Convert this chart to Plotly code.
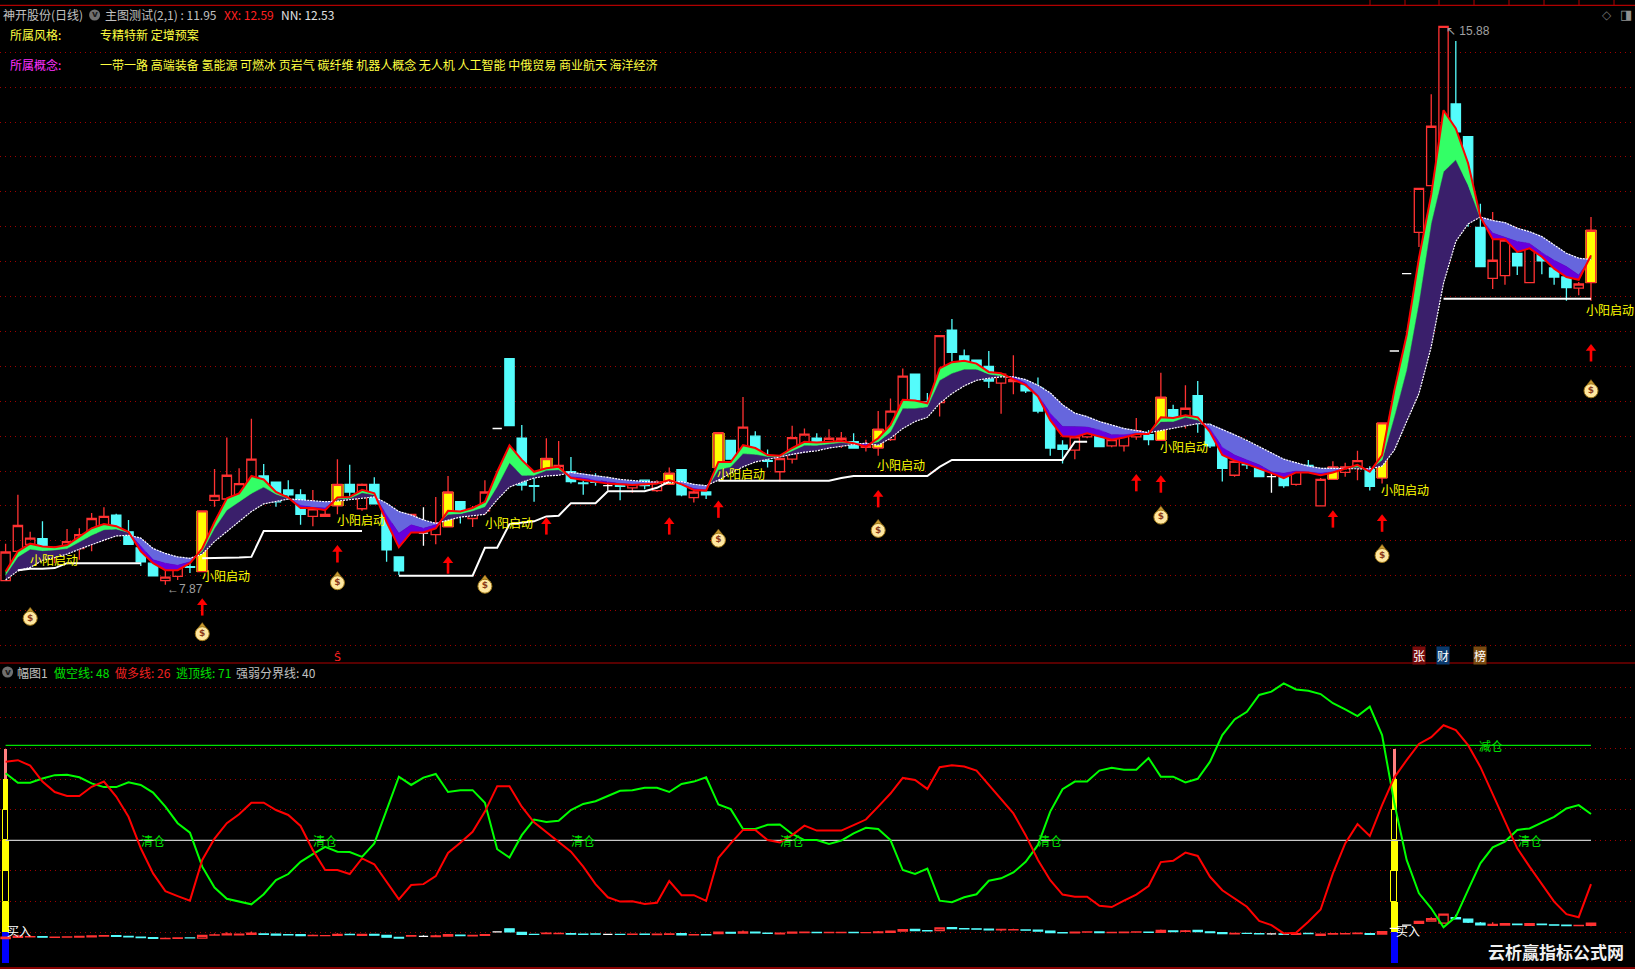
import plotly.graph_objects as go

W_PX, H_PX = 1635, 969
BG = "#000000"
RED = "#ff3232"
CYAN = "#54fcfc"
GRID = "#a00000"
FRAME = "#b00000"
CJK = "Noto Sans CJK SC"

# ---------- candles ----------
opens = [7.93,8.35,8.45,8.53,8.32,8.42,8.39,8.49,8.70,8.87,
 8.63,8.40,8.18,7.93,7.99,8.13,8.06,9.08,9.10,9.15,
 9.30,9.43,9.34,9.23,9.16,8.85,8.85,9.00,9.31,8.96,
 9.31,8.91,8.27,8.74,8.61,8.59,8.70,9.06,8.82,8.93,
 10.11,11.11,9.97,9.29,9.53,9.50,9.49,9.33,9.42,9.29,
 9.29,9.26,9.37,9.22,9.31,9.52,9.12,9.20,9.55,9.94,
 9.67,10.00,9.65,9.49,9.67,9.85,9.97,9.86,9.88,9.92,
 9.84,9.83,9.95,10.37,10.89,10.49,10.48,11.52,11.15,11.09,
 11.00,10.76,10.78,10.73,10.69,10.35,9.87,9.80,9.99,10.10,
 9.86,9.86,9.99,10.02,9.94,10.38,10.24,10.58,10.12,9.86,
 9.44,9.60,9.54,9.42,9.41,9.31,9.58,9.00,9.38,9.48,
 9.56,9.52,9.40,11.22,12.33,12.92,13.59,12.99,14.76,14.29,
 12.99,12.26,12.30,12.62,12.20,12.61,12.41,12.28,12.12,12.20]
closes = [8.34,8.72,8.54,8.37,8.38,8.49,8.59,8.82,8.85,8.63,
 8.45,8.20,8.00,7.98,8.14,8.12,8.93,9.15,9.44,9.32,
 9.67,9.29,9.06,9.16,8.88,8.96,8.88,9.31,9.20,9.31,
 9.03,8.37,8.07,8.88,8.61,8.75,9.20,8.87,8.93,9.20,
 10.11,10.15,9.30,9.28,9.68,9.58,9.35,9.32,9.34,9.29,
 9.28,9.32,9.29,9.34,9.47,9.16,9.20,9.16,10.05,9.67,
 10.13,9.80,9.64,9.68,9.98,10.03,9.87,9.97,9.97,9.83,
 9.86,10.10,10.36,10.86,10.52,10.41,11.44,11.20,11.08,10.99,
 10.79,10.89,10.81,10.65,10.36,9.83,9.81,9.99,10.11,9.85,
 9.95,10.03,10.08,9.95,10.56,10.23,10.40,10.20,9.86,9.54,
 9.64,9.59,9.42,9.42,9.29,9.55,9.51,9.38,9.56,9.56,
 9.65,9.28,10.19,11.22,12.33,13.55,14.44,15.87,14.36,13.27,
 12.43,12.52,12.81,12.44,12.76,12.51,12.28,12.13,12.18,12.95]
highs = [8.46,9.16,8.63,8.78,8.42,8.67,8.68,8.90,8.98,8.89,
 8.80,8.49,8.19,8.23,8.18,8.24,8.93,9.53,9.98,9.54,
 10.25,9.60,9.34,9.37,9.24,9.23,9.04,9.67,9.59,9.32,
 9.41,8.96,8.27,8.88,8.98,9.13,9.43,9.06,9.00,9.37,
 10.11,11.11,10.16,9.48,9.97,9.93,9.70,9.46,9.47,9.42,
 9.33,9.35,9.37,9.37,9.55,9.52,9.24,9.25,10.05,9.94,
 10.56,10.07,9.81,9.68,10.15,10.11,10.04,10.10,10.06,10.04,
 9.95,10.36,10.54,10.97,10.89,10.62,11.44,11.68,11.24,11.09,
 11.22,10.89,11.16,10.78,10.84,10.35,9.94,9.99,10.18,10.10,
 10.06,10.03,10.26,10.09,10.91,10.45,10.73,10.79,10.18,9.95,
 9.64,9.68,9.58,9.49,9.44,9.55,9.66,9.40,9.64,9.62,
 9.79,9.57,10.19,11.22,12.33,13.55,14.90,15.88,15.66,14.29,
 13.33,13.21,12.81,12.81,12.83,12.70,12.57,12.33,12.21,13.14]
lows = [7.93,8.27,8.39,8.33,8.18,8.35,8.23,8.35,8.63,8.61,
 8.44,8.14,7.99,7.87,7.94,8.04,8.06,8.99,8.97,9.01,
 9.13,9.22,8.99,9.09,8.73,8.71,8.84,8.88,9.11,8.93,
 9.03,8.20,8.01,8.63,8.43,8.45,8.70,8.75,8.70,8.87,
 10.11,10.15,9.22,9.06,9.53,9.50,9.32,9.16,9.29,9.22,
 9.08,9.19,9.24,9.20,9.31,9.14,9.05,9.10,9.55,9.67,
 9.57,9.72,9.55,9.35,9.61,9.85,9.85,9.85,9.83,9.83,
 9.78,9.72,9.93,10.30,10.52,10.37,10.28,11.07,11.04,10.89,
 10.69,10.32,10.60,10.62,10.33,9.72,9.61,9.67,9.97,9.85,
 9.84,9.78,9.95,9.87,9.94,10.21,10.11,10.05,9.83,9.35,
 9.42,9.53,9.42,9.19,9.26,9.29,9.48,9.00,9.38,9.42,
 9.37,9.22,9.32,11.22,12.33,12.71,13.59,12.99,14.29,13.00,
 12.43,12.11,12.17,12.31,12.20,12.32,12.17,11.94,12.02,11.94]
white_doji_days = [34, 40, 49, 103, 113, 114]
yellow_days = [16, 27, 36, 44, 54, 58, 71, 94, 108, 112, 129]

# ---------- ribbon lines ----------
fast_line = [8.06,8.35,8.46,8.42,8.41,8.44,8.56,8.68,8.74,8.71,
 8.63,8.35,8.18,8.08,8.08,8.18,8.39,8.77,9.11,9.18,
 9.43,9.38,9.20,9.12,8.97,8.97,8.94,9.12,9.13,9.23,
 9.18,8.77,8.41,8.62,8.62,8.68,8.93,8.92,8.97,9.06,
 9.49,9.87,9.66,9.49,9.54,9.56,9.40,9.37,9.35,9.32,
 9.31,9.30,9.31,9.32,9.37,9.31,9.23,9.22,9.63,9.63,
 9.87,9.83,9.73,9.72,9.83,9.92,9.91,9.92,9.93,9.90,
 9.85,9.97,10.16,10.52,10.51,10.47,10.97,11.06,11.08,11.04,
 10.92,10.90,10.82,10.73,10.57,10.23,10.00,9.99,10.04,9.99,
 9.95,9.98,10.03,10.03,10.27,10.26,10.30,10.27,10.06,9.73,
 9.65,9.60,9.54,9.47,9.40,9.48,9.48,9.44,9.48,9.54,
 9.59,9.49,9.73,10.66,11.45,12.55,13.46,14.67,14.41,13.91,
 13.14,12.82,12.82,12.64,12.69,12.57,12.40,12.28,12.24,12.59]
mid_line = [8.01,8.27,8.38,8.36,8.37,8.39,8.49,8.58,8.66,8.67,
 8.62,8.42,8.23,8.18,8.15,8.20,8.35,8.68,8.94,9.06,
 9.18,9.27,9.17,9.11,9.01,8.98,8.97,9.10,9.11,9.19,
 9.16,8.87,8.61,8.73,8.68,8.73,8.88,8.89,8.93,8.99,
 9.28,9.62,9.44,9.44,9.51,9.52,9.42,9.40,9.37,9.34,
 9.32,9.31,9.31,9.32,9.36,9.31,9.25,9.23,9.52,9.56,
 9.75,9.74,9.71,9.71,9.79,9.87,9.87,9.89,9.91,9.89,
 9.88,9.92,10.06,10.40,10.40,10.42,10.80,10.90,10.96,10.96,
 10.89,10.86,10.84,10.76,10.59,10.33,10.14,10.14,10.13,10.09,
 10.02,10.02,10.04,10.04,10.21,10.21,10.27,10.23,10.11,9.84,
 9.73,9.66,9.59,9.49,9.47,9.50,9.49,9.47,9.49,9.54,
 9.56,9.52,9.66,10.28,10.95,11.92,13.05,13.79,13.96,13.60,
 13.12,12.91,12.85,12.79,12.76,12.63,12.52,12.43,12.31,12.56]
slow_line = [7.94,8.07,8.12,8.22,8.26,8.31,8.38,8.45,8.51,8.57,
 8.58,8.54,8.39,8.32,8.27,8.25,8.31,8.49,8.63,8.77,
 8.92,9.03,9.06,9.10,9.09,9.07,9.06,9.07,9.09,9.12,
 9.13,9.04,8.92,8.87,8.80,8.75,8.80,8.84,8.86,8.88,
 9.09,9.27,9.34,9.40,9.43,9.44,9.48,9.46,9.43,9.41,
 9.38,9.36,9.35,9.34,9.33,9.35,9.31,9.29,9.37,9.47,
 9.56,9.63,9.67,9.70,9.74,9.77,9.79,9.83,9.86,9.88,
 9.90,9.87,9.97,10.11,10.21,10.27,10.47,10.61,10.72,10.80,
 10.83,10.85,10.85,10.81,10.73,10.62,10.45,10.33,10.28,10.21,
 10.16,10.11,10.08,10.05,10.08,10.11,10.15,10.18,10.17,10.10,
 10.02,9.94,9.85,9.76,9.67,9.62,9.57,9.54,9.54,9.54,
 9.54,9.53,9.57,9.80,10.21,10.61,11.28,12.19,12.79,13.04,
 13.14,13.09,13.06,12.98,12.93,12.86,12.74,12.62,12.55,12.53]
support_line = [None,8.08,8.10,8.10,8.11,8.18,8.18,8.18,8.18,8.18,
 8.18,8.18,None,None,None,None,8.25,8.25,8.25,8.26,
 8.27,8.64,8.64,8.64,8.64,8.64,8.64,8.64,8.64,8.64,
 None,None,8.00,8.00,8.00,8.00,8.00,8.00,8.00,8.40,
 8.40,8.74,8.76,8.78,8.85,8.86,9.04,9.04,9.04,9.21,
 9.21,9.21,9.21,9.26,9.35,None,None,None,9.36,9.36,
 9.36,9.36,9.36,9.36,9.36,9.36,9.36,9.36,9.40,9.43,
 9.43,9.43,9.43,9.43,9.43,9.43,9.56,9.66,9.66,9.66,
 9.66,9.66,9.66,9.66,9.66,9.66,9.66,9.92,9.92,None,
 None,None,None,None,None,None,None,None,None,None,
 None,None,None,None,None,None,None,None,None,None,
 None,None,None,None,None,None,None,11.97,11.97,11.97,
 11.97,11.97,11.97,11.97,11.97,11.97,11.97,11.97,11.97,11.97]

# ---------- signals ----------
arrow_days = [16, 27, 36, 44, 54, 58, 71, 92, 94, 108, 112, 129]
arrow_prices = [7.57, 8.33, 8.17, 8.73, 8.73, 8.97, 9.12, 9.35, 9.33, 8.83, 8.77, 11.21]
bag_days = [2, 16, 27, 39, 58, 71, 94, 112, 129]
bag_prices = [7.39, 7.17, 7.90, 7.85, 8.51, 8.65, 8.84, 8.29, 10.65]
start_label = "小阳启动"
start_label_days = [3.94, 17.93, 28.9, 41, 59.8, 72.85, 95.9, 113.9, 130.55]
start_label_prices = [8.24, 8.00, 8.80, 8.76, 9.46, 9.60, 9.85, 9.24, 11.81]

# ---------- lower panel ----------
short_line = [61.9,58.8,58.8,60.2,61.3,61.4,60.6,58.6,57.4,57.4,
 59.0,58.1,55.6,51.0,45.6,42.5,31.4,24.6,20.9,20.1,
 19.1,22.4,27.0,29.0,33.0,35.5,37.9,36.3,36.2,34.6,
 39.0,49.9,60.8,58.1,60.5,61.7,55.8,56.4,56.4,52.3,
 37.1,34.4,41.7,46.8,46.0,46.4,49.9,51.9,52.8,54.5,
 56.2,56.4,57.2,57.2,55.8,58.4,59.2,60.6,51.7,50.2,
 43.7,43.7,45.1,45.2,42.1,40.1,40.1,38.8,39.9,42.3,
 44.1,43.7,40.1,30.3,29.0,30.8,20.3,19.8,21.4,22.4,
 26.8,27.6,29.5,33.0,38.5,49.4,56.7,59.2,59.2,62.8,
 63.7,63.1,63.1,66.9,60.8,60.8,58.9,60.1,65.7,74.4,
 79.5,82.0,87.5,88.6,91.3,89.3,88.9,87.8,84.8,82.8,
 80.6,83.7,74.4,52.1,33.6,22.7,17.8,11.6,15.0,23.8,
 32.5,37.7,39.6,43.4,43.9,45.8,47.7,50.4,51.5,48.6]
long_line = [65.7,66.2,64.4,59.2,55.8,54.5,54.5,57.5,59.2,54.3,
 47.7,37.4,29.2,23.4,21.8,20.3,33.6,40.6,45.6,48.5,
 52.3,52.3,49.9,48.3,44.7,36.8,30.3,30.3,29.0,34.1,
 32.2,26.5,20.7,25.4,25.7,28.3,35.9,39.2,42.8,49.4,
 57.7,57.7,51.0,45.9,42.6,39.6,36.3,31.4,25.7,21.4,
 20.0,20.1,19.2,19.6,26.7,22.1,22.1,20.2,34.3,39.0,
 43.4,43.4,40.1,39.3,41.7,44.8,43.2,43.2,43.2,45.0,
 46.8,51.0,55.3,60.4,59.7,56.8,63.9,64.5,64.1,62.8,
 58.1,53.7,48.8,41.7,33.6,27.0,22.3,21.6,21.6,18.6,
 18.2,20.3,22.3,25.1,32.9,33.3,36.0,34.9,28.1,23.7,
 21.0,18.3,13.7,12.3,9.6,9.8,13.4,17.4,29.2,39.0,
 45.3,41.4,51.5,60.6,66.2,71.5,73.7,77.6,76.0,71.1,
 64.0,55.3,46.6,37.4,31.4,25.9,20.0,15.9,14.9,25.7]
ESCAPE_LEVEL = 71
DIVIDE_LEVEL = 40
clear_days = [12, 26, 47, 64, 85, 124]
reduce_days = [120.9]
buy_days = [1.1, 114.1]
column_days = [0, 113]
column_solid_bases = [50, 30, 10]
column_hollow_bases = [40, 20]

days = list(range(len(opens)))
fig = go.Figure()


def band_polygons(a, b):
    """Outline the zones between two lines, split where a is above or below b."""
    up_x, up_y, dn_x, dn_y = [], [], [], []
    run_x, run_a, run_b, sign = [], [], [], None

    def flush():
        if len(run_x) < 2:
            return
        xs = run_x + run_x[::-1] + [None]
        ys = run_a + run_b[::-1] + [None]
        if sign >= 0:
            up_x.extend(xs); up_y.extend(ys)
        else:
            dn_x.extend(xs); dn_y.extend(ys)

    for i in days:
        d = a[i] - b[i]
        s = 1 if d >= 0 else -1
        if sign is None:
            sign = s
        if s != sign:
            prev = a[i - 1] - b[i - 1]
            t = prev / (prev - d)
            xc = i - 1 + t
            yc = a[i - 1] + (a[i] - a[i - 1]) * t
            run_x.append(xc); run_a.append(yc); run_b.append(yc)
            flush()
            run_x, run_a, run_b, sign = [xc], [yc], [yc], s
        run_x.append(i); run_a.append(a[i]); run_b.append(b[i])
    flush()
    return up_x, up_y, dn_x, dn_y


def add_zone(xs, ys, color):
    fig.add_trace(go.Scatter(x=xs, y=ys, mode="lines", fill="toself", fillcolor=color,
                             line=dict(color=color, width=0.5), hoverinfo="skip", showlegend=False))


ux, uy, dx, dy = band_polygons(mid_line, slow_line)
add_zone(ux, uy, "#3a1f6b")
add_zone(dx, dy, "#6666dd")
ux, uy, dx, dy = band_polygons(fast_line, mid_line)
add_zone(ux, uy, "#33ff66")
add_zone(dx, dy, "#6600dd")

# yellow highlight bars
yb = [min(opens[i], closes[i]) for i in yellow_days]
yh = [abs(closes[i] - opens[i]) for i in yellow_days]
fig.add_trace(go.Bar(x=yellow_days, y=yh, base=yb, width=1.0, marker=dict(color="#b09a00", line_width=0), showlegend=False, hoverinfo="skip"))
fig.add_trace(go.Bar(x=yellow_days, y=yh, base=yb, width=0.62, marker=dict(color="#ffff00", line_width=0), showlegend=False, hoverinfo="skip"))

fig.add_trace(go.Scatter(x=days, y=slow_line, mode="lines", line=dict(color="#ffffff", width=1.2, dash="2px,1px"), showlegend=False, hoverinfo="skip"))
fig.add_trace(go.Scatter(x=days, y=support_line, mode="lines", line=dict(color="#ffffff", width=2), connectgaps=False, showlegend=False, hoverinfo="skip"))
fig.add_trace(go.Scatter(x=days, y=fast_line, mode="lines", line=dict(color="#ff0000", width=2), showlegend=False, hoverinfo="skip"))


def add_candles(yaxis):
    keep = [i for i in days if i not in white_doji_days]
    fig.add_trace(go.Candlestick(
        x=keep, open=[opens[i] for i in keep], high=[highs[i] for i in keep],
        low=[lows[i] for i in keep], close=[closes[i] for i in keep], yaxis=yaxis,
        increasing=dict(line=dict(color=RED, width=1.3), fillcolor="rgba(0,0,0,0)"),
        decreasing=dict(line=dict(color=CYAN, width=1.3), fillcolor=CYAN),
        showlegend=False, hoverinfo="skip"))
    fig.add_trace(go.Candlestick(
        x=white_doji_days, open=[opens[i] for i in white_doji_days], high=[highs[i] for i in white_doji_days],
        low=[lows[i] for i in white_doji_days], close=[closes[i] for i in white_doji_days], yaxis=yaxis,
        increasing=dict(line=dict(color="#ffffff", width=1.3), fillcolor="#ffffff"),
        decreasing=dict(line=dict(color="#ffffff", width=1.3), fillcolor="#ffffff"),
        showlegend=False, hoverinfo="skip"))


add_candles("y")

# red up arrows: a stem and a head
fig.add_trace(go.Scatter(x=arrow_days, y=[p - 0.05 for p in arrow_prices], mode="markers",
                         marker=dict(symbol="line-ns", size=9, line=dict(color="#ff0000", width=2.6)),
                         showlegend=False, hoverinfo="skip"))
fig.add_trace(go.Scatter(x=arrow_days, y=[p + 0.045 for p in arrow_prices], mode="markers",
                         marker=dict(symbol="triangle-up", size=9, color="#ff0000", line_width=0),
                         showlegend=False, hoverinfo="skip"))

# money bags
fig.add_trace(go.Scatter(x=bag_days, y=[p + 0.11 for p in bag_prices], mode="markers",
                         marker=dict(symbol="triangle-up", size=7, color="#c89a30", line=dict(color="#6a4a10", width=0.5)),
                         showlegend=False, hoverinfo="skip"))
fig.add_trace(go.Scatter(x=bag_days, y=bag_prices, mode="markers+text", text=["<b>$</b>"] * len(bag_days), textposition="middle center",
                         textfont=dict(family="DejaVu Sans", size=9, color="#8b3a1a"),
                         marker=dict(symbol="circle", size=14, color="#ffe7a0", line=dict(color="#a07818", width=1)),
                         showlegend=False, hoverinfo="skip"))

# ---- lower panel ----
for base in column_solid_bases:
    w = 0.42 if base == 50 else 0.56
    fig.add_trace(go.Bar(x=column_days, y=[10, 10], base=[base, base], width=w, yaxis="y2",
                         marker=dict(color="#ffff00", line_width=0), showlegend=False, hoverinfo="skip"))
for base in column_hollow_bases:
    w = 0.36 if base == 40 else 0.5
    fig.add_trace(go.Bar(x=column_days, y=[10, 10], base=[base, base], width=w, yaxis="y2",
                         marker=dict(color="rgba(0,0,0,0)", line=dict(color="#ffff00", width=1)), showlegend=False, hoverinfo="skip"))
fig.add_trace(go.Bar(x=column_days, y=[10, 10], base=[60, 60], width=0.25, yaxis="y2",
                     marker=dict(color="#ff8080", line_width=0), showlegend=False, hoverinfo="skip"))
fig.add_trace(go.Bar(x=column_days, y=[10, 10], base=[0, 0], width=0.56, yaxis="y2",
                     marker=dict(color="#0000ff", line_width=0), showlegend=False, hoverinfo="skip"))

fig.add_trace(go.Scatter(x=days, y=[ESCAPE_LEVEL] * len(days), yaxis="y2", mode="lines", line=dict(color="#00e000", width=1.2), showlegend=False, hoverinfo="skip"))
fig.add_trace(go.Scatter(x=days, y=[DIVIDE_LEVEL] * len(days), yaxis="y2", mode="lines", line=dict(color="#c8c8c8", width=1.2), showlegend=False, hoverinfo="skip"))
fig.add_trace(go.Scatter(x=days, y=short_line, yaxis="y2", mode="lines", line=dict(color="#00ff00", width=2), showlegend=False, hoverinfo="skip"))
fig.add_trace(go.Scatter(x=days, y=long_line, yaxis="y2", mode="lines", line=dict(color="#ff0000", width=2), showlegend=False, hoverinfo="skip"))
add_candles("y2")

# ---- annotations ----
ann = []


def page_text(text, px, py, color, size=12, anchor="left", family=CJK):
    ann.append(dict(text=text, x=px / W_PX, y=1 - py / H_PX, xref="paper", yref="paper", xanchor=anchor, yanchor="middle",
                    showarrow=False, font=dict(family=family, size=size, color=color)))


page_text("神开股份(日线)", 1, 15, "#c0c0c0")
page_text("主图测试(2,1) : 11.95", 103, 15, "#c0c0c0")
page_text("XX: 12.59", 222, 15, "#ff2020")
page_text("NN: 12.53", 279, 15, "#e0e0e0")
page_text("所属风格:", 8, 34, "#ffff40")
page_text("专精特新 定增预案", 98, 34, "#ffff40")
page_text("所属概念:", 8, 65, "#ff30ff")
page_text("一带一路 高端装备 氢能源 可燃冰 页岩气 碳纤维 机器人概念 无人机 人工智能 中俄贸易 商业航天 海洋经济", 98, 65, "#ffff40")
page_text("幅图1", 15, 672, "#c0c0c0")
page_text("做空线: 48", 52, 672, "#00e000")
page_text("做多线: 26", 113, 672, "#f02020")
page_text("逃顶线: 71", 174, 672, "#00e000")
page_text("强弱分界线: 40", 234, 672, "#c0c0c0")
page_text("云析赢指标公式网", 1556, 951.5, "#f0f0f0", size=17, anchor="center")
ann[-1]["font"]["weight"] = "bold"
page_text("◇", 1607, 15, "#707070", size=12, family="DejaVu Sans", anchor="center")
page_text("◨", 1626, 15, "#909090", size=13, family="DejaVu Sans", anchor="center")
page_text("<b>v</b>", 7.6, 671.5, "#1a1a1a", size=9, family="DejaVu Sans", anchor="center")
page_text("<b>v</b>", 94.6, 14.5, "#1a1a1a", size=9, family="DejaVu Sans", anchor="center")

for tag, px, col in [("张", 1418.5, "#7a0c0c"), ("财", 1442.5, "#0a3a6e"), ("榜", 1479.5, "#7a4a10")]:
    ann.append(dict(text=tag, x=px / W_PX, y=1 - 655.5 / H_PX, xref="paper", yref="paper", xanchor="center", yanchor="middle", showarrow=False,
                    font=dict(family=CJK, size=12, color="#ffffff"), bgcolor=col, borderpad=0))

for x, y in zip(start_label_days, start_label_prices):
    ann.append(dict(text=start_label, x=x, y=y, xref="x", yref="y", xanchor="center", yanchor="middle", showarrow=False, font=dict(family=CJK, size=12, color="#ffff00")))
for x in clear_days:
    ann.append(dict(text="清仓", x=x, y=DIVIDE_LEVEL, xref="x", yref="y2", xanchor="center", yanchor="middle", showarrow=False, font=dict(family=CJK, size=12, color="#00e000")))
for x in reduce_days:
    ann.append(dict(text="减仓", x=x, y=ESCAPE_LEVEL, xref="x", yref="y2", xanchor="center", yanchor="middle", showarrow=False, font=dict(family=CJK, size=12, color="#00e000")))
for x in buy_days:
    ann.append(dict(text="买入", x=x, y=10.5, xref="x", yref="y2", xanchor="center", yanchor="middle", showarrow=False, font=dict(family=CJK, size=12, color="#ffffff")))

ann.append(dict(text="←7.87", x=13, y=7.87, xref="x", yref="y", xanchor="left", yanchor="middle", showarrow=False, yshift=-4,
                font=dict(family="Liberation Sans", size=12, color="#a0a0a0")))
ann.append(dict(text="↖ 15.88", x=117, y=15.88, xref="x", yref="y", xanchor="left", yanchor="middle", showarrow=False, yshift=-5,
                font=dict(family="Liberation Sans", size=12, color="#a0a0a0")))
ann.append(dict(text="Ŝ", x=27, y=6.83, xref="x", yref="y", xanchor="center", yanchor="middle", showarrow=False, font=dict(family="DejaVu Sans", size=11, color="#ff2020")))

# frame
shapes = []
for py, w in [(5.3, 1.2), (663, 1.2), (968, 1.5)]:
    shapes.append(dict(type="line", xref="paper", yref="paper", x0=0, x1=1, y0=1 - py / H_PX, y1=1 - py / H_PX, line=dict(color=FRAME, width=w)))
for px in [1370, 1405, 1439, 1474, 1509, 1544, 1579, 1614]:
    shapes.append(dict(type="line", xref="paper", yref="paper", x0=px / W_PX, x1=px / W_PX, y0=1 - 5.3 / H_PX, y1=1, line=dict(color=FRAME, width=1)))
for px, py in [(7.6, 672), (94.6, 15)]:
    shapes.append(dict(type="circle", xref="paper", yref="paper", x0=(px - 5.5) / W_PX, x1=(px + 5.5) / W_PX,
                       y0=1 - (py + 5.5) / H_PX, y1=1 - (py - 5.5) / H_PX, fillcolor="#707070", line_width=0))

grid = dict(showgrid=True, gridcolor=GRID, griddash="1px,4px", gridwidth=1, showticklabels=False, ticks="", zeroline=False, showline=False)
fig.update_layout(
    width=W_PX, height=H_PX, margin=dict(l=0, r=0, t=0, b=0), paper_bgcolor=BG, plot_bgcolor=BG,
    barmode="overlay", bargap=0, boxgap=0.16, boxgroupgap=0.1, showlegend=False, dragmode=False,
    font=dict(family=CJK, color="#ffffff"),
    xaxis=dict(range=[-0.456, 132.58], domain=[0, 1], showgrid=False, zeroline=False, showticklabels=False, ticks="", rangeslider=dict(visible=False), fixedrange=True),
    yaxis=dict(domain=[1 - 663 / H_PX, 1 - 6 / H_PX], range=[6.75, 16.163], tickvals=[7 + k * 0.5 for k in range(18)], fixedrange=True, **grid),
    yaxis2=dict(domain=[1 / H_PX, 1 - 663 / H_PX], range=[-1.7, 97.94], tickvals=[10 * k for k in range(1, 10)], fixedrange=True, **grid),
    annotations=ann, shapes=shapes,
)
fig.write_html("out.html", config=dict(displayModeBar=False),
               post_script="document.body.style.margin='0';document.body.style.background='#000';document.body.style.overflow='hidden';")
